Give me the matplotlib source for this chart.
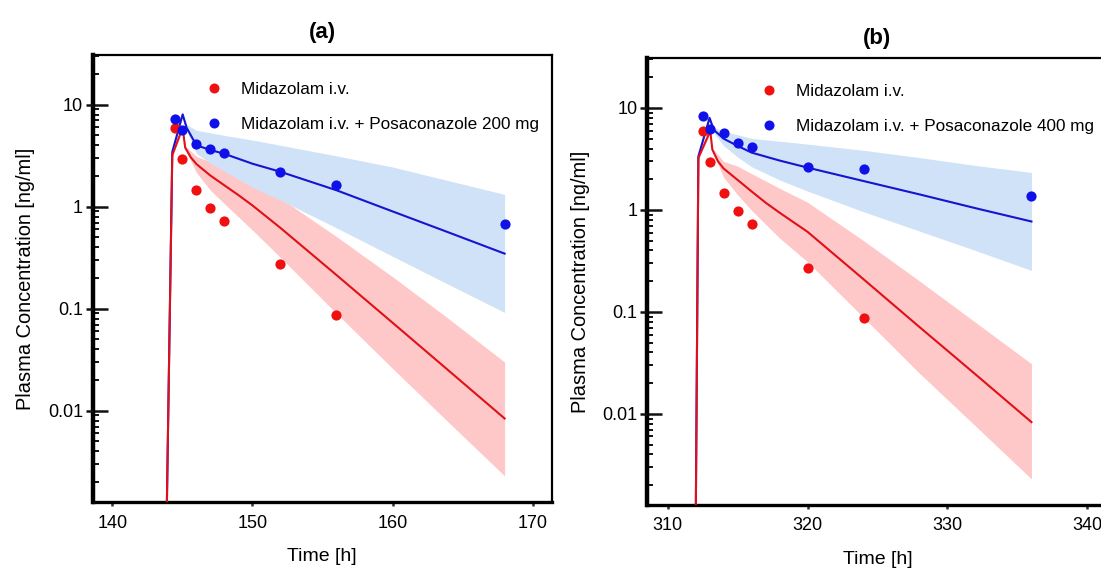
import numpy as np
import matplotlib
matplotlib.use("Agg")
import matplotlib.pyplot as plt
from matplotlib.ticker import LogLocator, FixedLocator, NullFormatter
from matplotlib.lines import Line2D

plt.rcParams['font.family'] = ['Liberation Sans', 'DejaVu Sans']

# ---------------- data: panel (a) ----------------
a_obs_t_red = [144.5, 145.0, 146.0, 147.0, 148.0, 152.0, 156.0]
a_obs_c_red = [5.9, 2.96, 1.47, 0.97, 0.72, 0.273, 0.086]
a_obs_t_blue = [144.5, 145.0, 146.0, 147.0, 148.0, 152.0, 156.0, 168.0]
a_obs_c_blue = [7.2, 5.7, 4.11, 3.67, 3.39, 2.19, 1.63, 0.68]

a_mod_t_red = [143.85, 144.28, 145.02, 145.2, 145.6, 146.0, 147.0, 148.0, 149.0, 150.0, 152.0, 156.0, 160.0, 164.0, 168.0]
a_mod_c_red = [0.0005, 3.2, 5.96, 3.8, 3.05, 2.62, 2.02, 1.62, 1.3, 1.03, 0.62, 0.214, 0.073, 0.0248, 0.0084]
a_band_t_red = [144.28, 145.02, 145.2, 146.0, 147.0, 148.0, 150.0, 152.0, 156.0, 160.0, 164.0, 168.0]
a_band_lo_red = [3.1, 5.7, 3.65, 2.17, 1.45, 1.07, 0.59, 0.318, 0.090, 0.026, 0.0077, 0.0023]
a_band_hi_red = [3.3, 6.2, 3.95, 3.12, 2.76, 2.45, 1.8, 1.21, 0.51, 0.206, 0.080, 0.030]

a_mod_t_blue = [143.85, 144.28, 145.02, 145.3, 146.0, 147.0, 148.0, 150.0, 152.0, 156.0, 160.0, 164.0, 168.0]
a_mod_c_blue = [0.0005, 3.44, 8.03, 5.96, 4.0, 3.6, 3.3, 2.64, 2.2, 1.45, 0.9, 0.56, 0.347]
a_band_t_blue = [144.28, 145.02, 145.3, 146.0, 147.0, 148.0, 150.0, 152.0, 156.0, 160.0, 164.0, 168.0]
a_band_lo_blue = [3.3, 7.6, 5.56, 3.33, 2.67, 2.23, 1.55, 1.16, 0.62, 0.327, 0.173, 0.092]
a_band_hi_blue = [3.6, 8.5, 6.4, 5.6, 5.3, 5.0, 4.5, 4.0, 3.15, 2.45, 1.8, 1.32]

# ---------------- data: panel (b) ----------------
b_obs_t_red = [312.5, 313.0, 314.0, 315.0, 316.0, 320.0, 324.0]
b_obs_c_red = [5.9, 2.95, 1.47, 0.967, 0.727, 0.271, 0.0875]
b_obs_t_blue = [312.5, 313.0, 314.0, 315.0, 316.0, 320.0, 324.0, 336.0]
b_obs_c_blue = [8.27, 6.27, 5.68, 4.54, 4.14, 2.66, 2.54, 1.36]

b_mod_t_red = [312.0, 312.2, 313.05, 313.2, 313.6, 314.0, 315.0, 316.0, 317.0, 318.0, 320.0, 324.0, 328.0, 332.0, 336.0]
b_mod_c_red = [0.0005, 3.24, 5.94, 3.9, 3.0, 2.55, 1.97, 1.52, 1.18, 0.94, 0.61, 0.209, 0.071, 0.0244, 0.0083]
b_band_t_red = [312.2, 313.05, 313.2, 314.0, 315.0, 316.0, 318.0, 320.0, 324.0, 328.0, 332.0, 336.0]
b_band_lo_red = [3.1, 5.7, 3.75, 2.09, 1.41, 0.99, 0.53, 0.31, 0.088, 0.025, 0.0076, 0.0023]
b_band_hi_red = [3.4, 6.2, 4.05, 2.99, 2.69, 2.27, 1.63, 1.19, 0.50, 0.201, 0.079, 0.031]

b_mod_t_blue = [312.0, 312.2, 313.0, 313.3, 314.0, 315.0, 316.0, 318.0, 320.0, 324.0, 328.0, 332.0, 336.0]
b_mod_c_blue = [0.0005, 3.35, 7.98, 6.1, 5.0, 4.25, 3.65, 3.05, 2.6, 1.92, 1.42, 1.04, 0.77]
b_band_t_blue = [312.2, 313.0, 313.3, 314.0, 315.0, 316.0, 318.0, 320.0, 324.0, 328.0, 332.0, 336.0]
b_band_lo_blue = [3.2, 7.6, 5.7, 4.28, 3.30, 2.65, 1.97, 1.53, 0.96, 0.62, 0.40, 0.255]
b_band_hi_blue = [3.5, 8.4, 6.5, 5.85, 5.47, 5.03, 4.72, 4.42, 3.84, 3.26, 2.73, 2.33]

x_ticks_a = [140, 150, 160, 170]
x_ticks_b = [310, 320, 330, 340]
y_ticks = [0.01, 0.1, 1, 10]
y_tick_labels = ['0.01', '0.1', '1', '10']

titles = ['(a)', '(b)']
legend_labels_a = ['Midazolam i.v.', 'Midazolam i.v. + Posaconazole 200 mg']
legend_labels_b = ['Midazolam i.v.', 'Midazolam i.v. + Posaconazole 400 mg']

RED = '#f01010'
BLUE = '#1010e8'
RED_LINE = '#e01018'
BLUE_LINE = '#1515d0'
RED_BAND = '#ffc8c8'
BLUE_BAND = '#cfe2f8'

W, H = 1101, 568
fig = plt.figure(figsize=(W / 100, H / 100), dpi=100)


def make_panel(rect, xlim, xticks, title, title_pad, labels, leg_xy,
               obs_r, obs_b, mod_r, mod_b, band_r, band_b):
    ax = fig.add_axes(rect)
    ax.set_yscale('log')
    ax.fill_between(band_r[0], band_r[1], band_r[2], color=RED_BAND, lw=0, zorder=1)
    ax.fill_between(band_b[0], band_b[1], band_b[2], color=BLUE_BAND, lw=0, zorder=1)
    ax.plot(mod_b[0], mod_b[1], color=BLUE_LINE, lw=1.5, zorder=2)
    ax.plot(mod_r[0], mod_r[1], color=RED_LINE, lw=1.5, zorder=3)
    ax.scatter(obs_r[0], obs_r[1], s=54, color=RED, lw=0, zorder=4)
    ax.scatter(obs_b[0], obs_b[1], s=54, color=BLUE, lw=0, zorder=5)
    ax.set_xlim(*xlim)
    ax.set_ylim(10 ** -2.894, 10 ** 1.487)
    ax.set_xticks(xticks)
    ax.yaxis.set_major_locator(FixedLocator(y_ticks))
    ax.set_yticklabels(y_tick_labels)
    ax.yaxis.set_minor_locator(LogLocator(base=10, subs=np.arange(2, 10), numticks=20))
    ax.yaxis.set_minor_formatter(NullFormatter())
    ax.tick_params(axis='y', which='major', direction='in', length=11, width=1.8,
                   labelsize=13, pad=7, color='#111111')
    ax.tick_params(axis='y', which='minor', direction='in', length=4.5, width=1.4, color='#111111')
    ax.tick_params(axis='x', which='major', direction='out', length=3, width=1.8,
                   labelsize=13, pad=6, color='#333333')
    ax.tick_params(axis='x', which='minor', bottom=False)
    for s, lw in [('left', 3.2), ('bottom', 2.4), ('top', 1.6), ('right', 1.6)]:
        ax.spines[s].set_linewidth(lw)
        ax.spines[s].set_color('#000000')
    ax.set_xlabel('Time [h]', fontsize=14, labelpad=12)
    ax.set_ylabel('Plasma Concentration [ng/ml]', fontsize=14.4, labelpad=9)
    ax.set_title(title, fontsize=16, fontweight='bold', pad=title_pad)
    handles = [Line2D([], [], ls='none', marker='o', ms=7.2, mfc=RED, mec='none'),
               Line2D([], [], ls='none', marker='o', ms=7.2, mfc=BLUE, mec='none')]
    ax.legend(handles, labels, loc='upper left', bbox_to_anchor=leg_xy, frameon=False,
              fontsize=12.3, borderpad=0, borderaxespad=0, handlelength=0.8,
              handletextpad=1.2, labelspacing=1.2)
    # outward part of the major y ticks
    tw = ax.twinx()
    tw.set_yscale('log')
    tw.set_ylim(ax.get_ylim())
    tw.yaxis.tick_left()
    tw.yaxis.set_major_locator(FixedLocator(y_ticks))
    tw.yaxis.set_minor_locator(FixedLocator([]))
    tw.tick_params(axis='y', which='major', direction='out', length=5, width=1.8,
                   labelleft=False, labelright=False, color='#111111')
    for s in tw.spines.values():
        s.set_visible(False)
    tw.patch.set_visible(False)
    return ax


make_panel([92.7 / W, 1 - 502 / H, 459 / W, 447 / H], (138.6, 171.36), x_ticks_a,
           titles[0], 12, legend_labels_a, (0.2497, 0.940),
           (a_obs_t_red, a_obs_c_red), (a_obs_t_blue, a_obs_c_blue),
           (a_mod_t_red, a_mod_c_red), (a_mod_t_blue, a_mod_c_blue),
           (a_band_t_red, a_band_lo_red, a_band_hi_red),
           (a_band_t_blue, a_band_lo_blue, a_band_hi_blue))

make_panel([647 / W, 1 - 505 / H, 461 / W, 446.7 / H], (308.53, 341.47), x_ticks_b,
           titles[1], 10, legend_labels_b, (0.250, 0.943),
           (b_obs_t_red, b_obs_c_red), (b_obs_t_blue, b_obs_c_blue),
           (b_mod_t_red, b_mod_c_red), (b_mod_t_blue, b_mod_c_blue),
           (b_band_t_red, b_band_lo_red, b_band_hi_red),
           (b_band_t_blue, b_band_lo_blue, b_band_hi_blue))

fig.savefig('out.png', dpi=100)
